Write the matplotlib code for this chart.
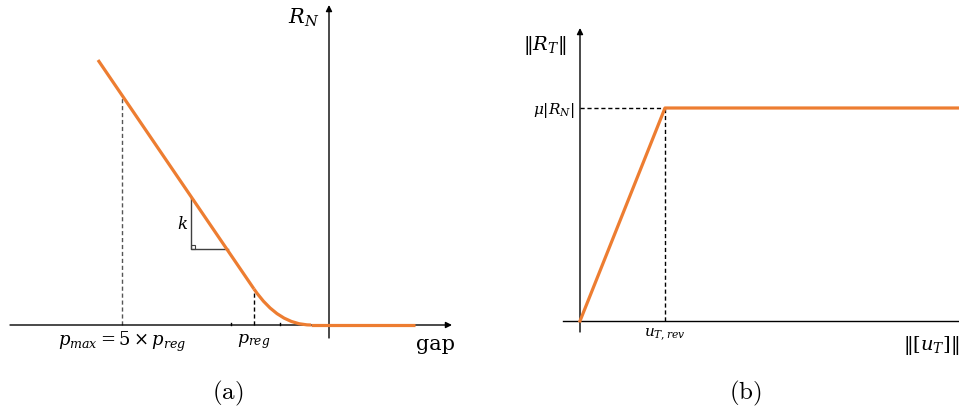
import numpy as np
import matplotlib
matplotlib.use("Agg")
import matplotlib.pyplot as plt
from matplotlib.path import Path
from matplotlib.patches import PathPatch, Rectangle

# ---- data (arbitrary units, origin at the axes crossing) ----
# panel (a): normal reaction vs gap
lin_gap = [-2.31, -0.75]          # straight penalty branch
lin_rn = [2.65, 0.36]
curve_gap = [-0.75, -0.505, -0.18]  # regularised part (bezier nodes)
curve_rn = [0.36, 0.0, 0.0]
flat_gap = [-0.18, 0.86]
flat_rn = [0.0, 0.0]
p_max, p_reg = -2.07, -0.75
tri_x = [-1.38, -1.01]
tri_y = [1.285, 0.76]
tick_gap = [-0.98, -0.49]

# panel (b): tangential reaction vs slip
slip = [0.0, 0.85, 3.79]
rt = [0.0, 2.13, 2.13]
u_rev = 0.85
mu_rn = 2.13

orange = "#ED7D31"
mf = "dejavuserif"

fig = plt.figure(figsize=(9.59, 4.15), dpi=100)
ax1 = fig.add_axes([0, 0, 0.5, 1])
ax2 = fig.add_axes([0.5, 0, 0.5, 1])
for ax in (ax1, ax2):
    ax.axis("off")
ax1.set_xlim(-3.29, 1.505)
ax1.set_ylim(-0.90, 3.25)
ax2.set_xlim(-1.005, 3.79)
ax2.set_ylim(-0.94, 3.21)

arrow = dict(arrowstyle="-|>", lw=1.0, color="black", mutation_scale=9,
             shrinkA=0, shrinkB=0)

# ---------- (a) ----------
ax1.annotate("", xy=(1.23, 0), xytext=(-3.19, 0), arrowprops=arrow)
ax1.annotate("", xy=(0, 3.20), xytext=(0, -0.13), arrowprops=arrow)
for t in tick_gap:
    ax1.plot([t, t], [0, 0.02], color="black", lw=1)

ax1.plot(lin_gap, lin_rn, color=orange, lw=2.3, solid_capstyle="butt", zorder=3)
verts = list(zip(curve_gap, curve_rn))
ax1.add_patch(PathPatch(Path(verts, [Path.MOVETO, Path.CURVE3, Path.CURVE3]),
                        fc="none", ec=orange, lw=2.3, zorder=3))
ax1.plot(flat_gap, flat_rn, color=orange, lw=2.3, solid_capstyle="butt", zorder=3)

slope = (lin_rn[1] - lin_rn[0]) / (lin_gap[1] - lin_gap[0])
rn_pmax = lin_rn[0] + slope * (p_max - lin_gap[0])
ax1.plot([p_max, p_max], [0, rn_pmax], color="#555555", lw=1, ls=(0, (3, 2)))
ax1.plot([p_reg, p_reg], [0, lin_rn[1]], color="black", lw=1, ls=(0, (3, 2)))

ax1.plot([tri_x[0], tri_x[0], tri_x[1]], [tri_y[0], tri_y[1], tri_y[1]],
         color="#404040", lw=1)
ax1.add_patch(Rectangle((tri_x[0], tri_y[1]), 0.04, 0.04, fill=False,
                        ec="#404040", lw=0.8))

ax1.text(-0.25, 3.07, r"$R_N$", fontsize=15, ha="center", va="center",
         math_fontfamily=mf)
ax1.text(1.07, -0.19, "gap", fontsize=15, ha="center", va="center",
         family="DejaVu Serif")
ax1.text(p_max, -0.17, r"$p_{max} = 5 \times p_{reg}$", fontsize=13,
         ha="center", va="center", math_fontfamily=mf)
ax1.text(p_reg, -0.17, r"$p_{reg}$", fontsize=12.5, ha="center", va="center",
         math_fontfamily=mf)
ax1.text(-1.46, 1.01, r"$k$", fontsize=12, ha="center", va="center",
         math_fontfamily=mf)
ax1.text(-1.01, -0.68, r"$\mathrm{(a)}$", fontsize=18, ha="center",
         va="center", math_fontfamily="cm")

# ---------- (b) ----------
ax2.plot([-0.17, 3.79], [0, 0], color="black", lw=1)
ax2.annotate("", xy=(0, 2.93), xytext=(0, -0.11), arrowprops=arrow)
ax2.plot([0, u_rev], [mu_rn, mu_rn], color="black", lw=1, ls=(0, (3, 2)))
ax2.plot([u_rev, u_rev], [0, mu_rn], color="black", lw=1, ls=(0, (3, 2)))
ax2.plot(slip, rt, color=orange, lw=2.3, zorder=3)

ax2.text(-0.35, 2.76, r"$\Vert R_T\Vert$", fontsize=14, ha="center",
         va="center", math_fontfamily=mf)
ax2.text(-0.05, 2.11, r"$\mu|R_N|$", fontsize=11, ha="right", va="center",
         math_fontfamily=mf)
ax2.text(u_rev, -0.14, r"$u_{T,rev}$", fontsize=11, ha="center", va="center",
         math_fontfamily=mf)
ax2.text(3.79, -0.24, r"$\Vert[u_T]\Vert$", fontsize=14, ha="right",
         va="center", math_fontfamily=mf)
ax2.text(1.65, -0.72, r"$\mathrm{(b)}$", fontsize=18, ha="center",
         va="center", math_fontfamily="cm")

fig.savefig("out.png", dpi=100)
